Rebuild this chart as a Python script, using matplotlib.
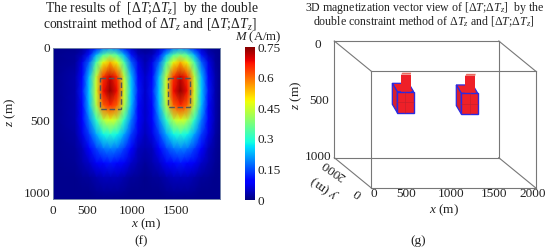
import numpy as np
import matplotlib
matplotlib.use('Agg')
import matplotlib.pyplot as plt
from matplotlib.patches import Polygon, Rectangle

plt.rcParams['font.family'] = ['Liberation Serif', 'DejaVu Serif']
plt.rcParams['mathtext.fontset'] = 'custom'
plt.rcParams['mathtext.rm'] = 'Liberation Serif'
plt.rcParams['mathtext.it'] = 'Liberation Serif:italic'

# left panel values
z_grid = [0, 50, 100, 200, 300, 400, 500, 600, 700, 800, 900, 1000, 1048]
x_grid = [0, 267, 351, 435, 519, 603, 687, 771, 855, 939, 1023, 1108,
          1192, 1276, 1360, 1446, 1530, 1614, 1698, 1782, 1866, 1950, 2000]
# one anomaly, from its centre outwards
half_profile = [
    [0.20, 0.17, 0.10, 0.04, 0.01, 0.00],
    [0.37, 0.33, 0.22, 0.10, 0.03, 0.01],
    [0.54, 0.47, 0.32, 0.16, 0.06, 0.01],
    [0.70, 0.64, 0.43, 0.23, 0.09, 0.02],
    [0.74, 0.67, 0.45, 0.24, 0.10, 0.02],
    [0.65, 0.60, 0.42, 0.23, 0.09, 0.02],
    [0.46, 0.42, 0.30, 0.18, 0.08, 0.02],
    [0.29, 0.27, 0.21, 0.13, 0.06, 0.015],
    [0.18, 0.17, 0.13, 0.08, 0.03, 0.01],
    [0.10, 0.09, 0.07, 0.04, 0.02, 0.005],
    [0.03, 0.03, 0.02, 0.01, 0.005, 0.00],
    [0.01, 0.01, 0.005, 0.00, 0.00, 0.00],
    [0.00, 0.00, 0.00, 0.00, 0.00, 0.00],
]
x_ticks = [0, 410, 950, 1480]
x_tick_labels = ['0', '500', '1000', '1500']
z_ticks = [0, 500, 1000]
cbar_ticks = [0, 0.15, 0.3, 0.45, 0.6, 0.75]
cbar_labels = ['0', '0.15', '0.3', '0.45', '0.6', '0.75']
dash_boxes = [(566, 208, 253, 212), (1386, 208, 254, 202)]

# right panel, x y z in metres
box_x = [0, 2000]
box_y = [0, 2000]
box_z = [0, 1000]
box_ticks = [0, 500, 1000, 1500, 2000]
box_tick_px = [374, 406, 451, 494, 533]
blocks = [(543, 742, 306, 486, 588, 706, 160), (1321, 1521, 320, 497, 1368, 1490, 170)]

fig = plt.figure(figsize=(5.5, 2.49), dpi=100)


def make_ax(x0, y0, x1, y1):
    return fig.add_axes([x0 / 550, 1 - y1 / 249, (x1 - x0) / 550, (y1 - y0) / 249])


ax = make_ax(53, 48, 219.5, 199)
rows = np.array(half_profile)
left = rows[:, ::-1]
right = rows[:, 1:]
field = np.column_stack([np.zeros(len(rows)), left, right[:, :4], right[:, 4] + right[:, 4],
                         right[:, :4][:, ::-1], rows[:, 0], right, np.zeros(len(rows))])
ax.pcolormesh(x_grid, z_grid, field, cmap='jet', vmin=-0.01, vmax=0.75, shading='gouraud')
ax.set_xlim(0, 2000)
ax.set_ylim(1048, 0)
ax.set_xticks(x_ticks, x_tick_labels)
ax.set_yticks(z_ticks, [str(v) for v in z_ticks])
ax.tick_params(length=0, labelsize=9.5, colors='#222222')
ax.tick_params(axis='x', pad=4)
ax.tick_params(axis='y', pad=2)
for s in ax.spines.values():
    s.set_color('#7080a8')
    s.set_linewidth(0.7)
for bx, bz, bw, bh in dash_boxes:
    ax.add_patch(Rectangle((bx, bz), bw, bh, fill=False, ec='#555555', lw=1.0, ls=(0, (4, 2))))

cax = make_ax(245, 47, 255, 200)
grad = np.linspace(0, 0.75, 256).reshape(-1, 1)
cax.imshow(grad, cmap='jet', aspect='auto', origin='lower', extent=[0, 1, 0, 0.75])
cax.set_xticks([])
cax.yaxis.tick_right()
cax.set_yticks(cbar_ticks, cbar_labels)
cax.tick_params(length=0, labelsize=9.5, pad=2, colors='#222222')
for s in cax.spines.values():
    s.set_visible(False)

# overlay in image pixels for text and the oblique box
ov = fig.add_axes([0, 0, 1, 1], facecolor='none')
ov.set_xlim(0, 550)
ov.set_ylim(249, 0)
ov.axis('off')


def proj(x, y, z):
    return (371 + x * 0.08225 - y * 0.01835, 187.7 - (1000 - z) * 0.1167 - y * 0.015)


tc = '#222222'
ov.text(152, 8, r'The results of  [$\Delta T$;$\Delta T_{z}$]  by the double', fontsize=9.8,
        ha='center', va='center', color=tc)
ov.text(150, 23.5, r'constraint method of $\Delta T_{z}$ and [$\Delta T$;$\Delta T_{z}$]', fontsize=9.8,
        ha='center', va='center', color=tc)
ov.text(258, 37.5, r'$M$ (A/m)', fontsize=9.2, ha='center', va='center', color=tc)
ov.text(10, 112, r'$z$ (m)', fontsize=9.5, rotation=90, ha='center', va='center', color=tc)
ov.text(146, 224, r'$x$ (m)', fontsize=9.5, ha='center', va='center', color=tc)
ov.text(141, 241, '(f)', fontsize=9.5, ha='center', va='center', color=tc)

ov.text(425, 8, r'3D magnetization vector view of [$\Delta T$;$\Delta T_{z}$]  by the', fontsize=8.6,
        ha='center', va='center', color=tc)
ov.text(424, 22, r'double constraint method of $\Delta T_{z}$ and [$\Delta T$;$\Delta T_{z}$]', fontsize=8.6,
        ha='center', va='center', color=tc)

edges = [((0, 0, 0), (1, 0, 0)), ((0, 0, 1), (1, 0, 1)), ((0, 1, 0), (1, 1, 0)), ((0, 1, 1), (1, 1, 1)),
         ((0, 0, 0), (0, 1, 0)), ((1, 0, 0), (1, 1, 0)), ((0, 0, 1), (0, 1, 1)), ((1, 0, 1), (1, 1, 1)),
         ((0, 0, 0), (0, 0, 1)), ((1, 0, 0), (1, 0, 1)), ((0, 1, 0), (0, 1, 1)), ((1, 1, 0), (1, 1, 1))]
for a, b in edges:
    p = proj(box_x[a[0]], box_y[a[1]], box_z[a[2]])
    q = proj(box_x[b[0]], box_y[b[1]], box_z[b[2]])
    ov.plot([p[0], q[0]], [p[1], q[1]], color='#777777', lw=0.8, zorder=1)

red = '#ee2028'
side = '#d8202c'
blue = '#2a2ae0'
for x0, x1, z0, z1, cx0, cx1, cz0 in blocks:
    dx, dy = -5, -8.4
    # chimney on the block
    a = proj(cx0, 1000, cz0)
    b = proj(cx1, 1000, z0)
    ov.add_patch(Polygon([(a[0] + 1.3, a[1] - 2), (b[0] + 0.5, a[1] - 2), (b[0], a[1]), (a[0], a[1])],
                         fc='#e86a60', ec='none', zorder=4))
    ov.add_patch(Rectangle((a[0], a[1]), b[0] - a[0], b[1] - a[1] + 2, fc=red, ec='none', zorder=4))
    # block faces
    tl = proj(x0, 1000, z0)
    tr = proj(x1, 1000, z0)
    bl = proj(x0, 1000, z1)
    br = proj(x1, 1000, z1)
    top = [tl, tr, (tr[0] + dx, tr[1] + dy), (tl[0] + dx, tl[1] + dy)]
    sd = [tl, bl, (bl[0] + dx, bl[1] + dy), (tl[0] + dx, tl[1] + dy)]
    ov.add_patch(Polygon(top, fc=red, ec=blue, lw=0.9, zorder=3))
    ov.add_patch(Polygon(sd, fc=side, ec=blue, lw=0.9, zorder=5))
    ov.add_patch(Polygon([tl, tr, br, bl], fc=red, ec=blue, lw=1.0, zorder=5))
    ov.plot([(tl[0] + tr[0]) / 2] * 2, [tl[1], bl[1]], color='#c0202c', lw=0.4, zorder=6)
    ov.plot([tl[0], tr[0]], [(tl[1] + bl[1]) / 2] * 2, color='#c0202c', lw=0.4, zorder=6)

for v, px in zip(box_ticks, box_tick_px):
    ov.text(px, 193.5, str(v), fontsize=9.5, ha='center', va='center', color=tc)
ov.text(444, 210, r'$x$ (m)', fontsize=9.5, ha='center', va='center', color=tc)
ov.text(318, 45, '0', fontsize=9.5, ha='center', va='center', color=tc)
ov.text(319, 101, '500', fontsize=9.5, ha='center', va='center', color=tc)
ov.text(318, 157, '1000', fontsize=9.5, ha='center', va='center', color=tc)
ov.text(296, 95, r'$z$ (m)', fontsize=9.5, rotation=90, ha='center', va='center', color=tc)
ov.text(358, 193, '0', fontsize=9.5, rotation=145, ha='center', va='center', color=tc)
ov.text(334, 170, '2000', fontsize=9.5, rotation=145, ha='center', va='center', color=tc)
ov.text(325, 188, r'$y$ (m)', fontsize=9.5, rotation=145, ha='center', va='center', color=tc)
ov.text(418, 241, '(g)', fontsize=9.5, ha='center', va='center', color=tc)

fig.savefig('out.png', dpi=100)
